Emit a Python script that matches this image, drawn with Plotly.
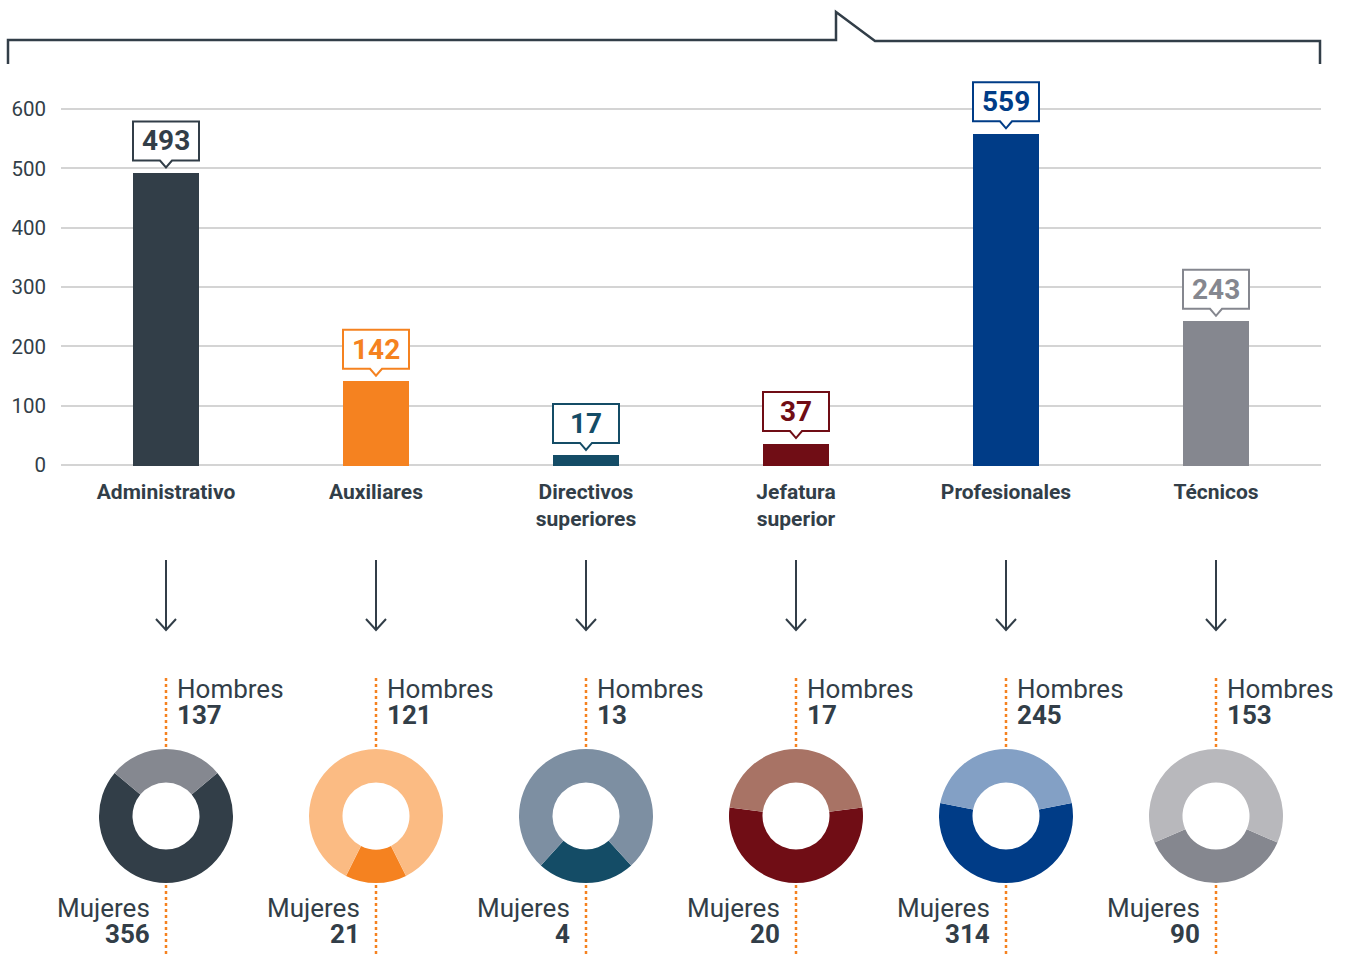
import plotly.graph_objects as go

W, H = 1356, 954

categories = ["Administrativo", "Auxiliares", "Directivos<br>superiores",
              "Jefatura<br>superior", "Profesionales", "Técnicos"]
totals = [493, 142, 17, 37, 559, 243]
hombres = [137, 121, 13, 17, 245, 153]
mujeres = [356, 21, 4, 20, 314, 90]
y_ticks = [0, 100, 200, 300, 400, 500, 600]

bar_colors = ["#323e48", "#f58220", "#144c66", "#700d15", "#003c87", "#85878f"]
mujeres_colors = ["#323e48", "#f58220", "#144c66", "#700d15", "#003c87", "#85878f"]
hombres_colors = ["#858890", "#fbbb83", "#7d8fa2", "#a87365", "#83a0c5", "#b8b8bc"]

TXT = "#323e48"
FONT = "Roboto"


def px(p):
    return p / W


def py(p):
    return 1 - p / H


X0, X1 = 61, 1321
SCALE = 356 / 600          # pixels per unit
ZERO_PX = 465
yr = [-5, 675]
Y_BOT = ZERO_PX - yr[0] * SCALE
Y_TOP = ZERO_PX - yr[1] * SCALE
n = len(categories)
step = (X1 - X0) / n

fig = go.Figure()

fig.add_trace(go.Bar(
    x=list(range(n)), y=totals, marker=dict(color=bar_colors, line=dict(width=0)),
    width=0.318, showlegend=False, hoverinfo="x+y",
))

shapes = []
annotations = []

# bracket on top
bracket = (f"M{px(8)},{py(64)} L{px(8)},{py(40)} L{px(836)},{py(40)} "
           f"L{px(836)},{py(12)} L{px(875)},{py(41)} L{px(1320)},{py(41)} L{px(1320)},{py(64)}")
shapes.append(dict(type="path", xref="paper", yref="paper", path=bracket,
                   line=dict(color=TXT, width=2.5)))

for i in range(n):
    # callout box
    shapes.append(dict(
        type="path", xref="x", yref="y", xsizemode="pixel", ysizemode="pixel",
        xanchor=i, yanchor=totals[i],
        path="M-33,12 L-6,12 L0,5 L6,12 L33,12 L33,51 L-33,51 Z",
        line=dict(color=bar_colors[i], width=2), fillcolor="white", layer="above",
    ))
    annotations.append(dict(
        x=i, y=totals[i], xref="x", yref="y", yshift=31.5, showarrow=False,
        text=f"<b>{totals[i]}</b>", yanchor="middle",
        font=dict(family=FONT, size=28, color=bar_colors[i]),
    ))
    # down arrow
    shapes.append(dict(
        type="path", xref="x", yref="paper", xsizemode="pixel", ysizemode="pixel",
        xanchor=i, yanchor=py(560),
        path="M0,0 L0,-70 M-10,-59 L0,-70 L10,-59",
        line=dict(color=TXT, width=2),
    ))

    cx = X0 + (i + 0.5) * step
    cy = 816
    r = 67
    t = hombres[i] + mujeres[i]
    rot = 180 - mujeres[i] / t * 180
    fig.add_trace(go.Pie(
        values=[mujeres[i], hombres[i]], labels=["Mujeres", "Hombres"],
        marker=dict(colors=[mujeres_colors[i], hombres_colors[i]], line=dict(width=0)),
        hole=0.5, sort=False, direction="clockwise", rotation=rot,
        textinfo="none", showlegend=False,
        domain=dict(x=[px(cx - r), px(cx + r)], y=[py(cy + r), py(cy - r)]),
    ))
    # dotted guides
    shapes.append(dict(type="line", xref="paper", yref="paper",
                       x0=px(cx), x1=px(cx), y0=py(678), y1=py(748),
                       line=dict(color="#f58220", width=2.5, dash="dot")))
    shapes.append(dict(type="line", xref="paper", yref="paper",
                       x0=px(cx), x1=px(cx), y0=py(885), y1=py(954),
                       line=dict(color="#f58220", width=2.5, dash="dot")))
    lab = dict(xref="paper", yref="paper", yanchor="middle", showarrow=False,
               font=dict(family=FONT, size=26, color=TXT))
    annotations.append(dict(lab, x=px(cx + 9), y=py(689), xanchor="left",
                            text="Hombres"))
    annotations.append(dict(lab, x=px(cx + 9), y=py(715), xanchor="left",
                            text=f"<b>{hombres[i]}</b>"))
    annotations.append(dict(lab, x=px(cx - 14), y=py(908), xanchor="right",
                            text="Mujeres"))
    annotations.append(dict(lab, x=px(cx - 14), y=py(934), xanchor="right",
                            text=f"<b>{mujeres[i]}</b>"))

fig.update_layout(
    width=W, height=H, margin=dict(l=0, r=0, t=0, b=0, autoexpand=False),
    paper_bgcolor="white", plot_bgcolor="white",
    font=dict(family=FONT, color=TXT),
    xaxis=dict(domain=[px(X0), px(X1)], range=[-0.5, n - 0.5],
               tickvals=list(range(n)), ticktext=categories,
               tickfont=dict(family=FONT, size=21, color=TXT, weight="bold"),
               showgrid=False, zeroline=False, showline=False, ticks="",
               ticklabelstandoff=9, automargin=False),
    yaxis=dict(domain=[py(Y_BOT), py(Y_TOP)], range=yr, tickvals=y_ticks,
               tickfont=dict(family=FONT, size=20.5, color=TXT),
               showgrid=True, gridcolor="#d4d4d4", gridwidth=2,
               zeroline=False, showline=False, ticks="", ticklabelstandoff=14,
               automargin=False),
    shapes=shapes, annotations=annotations, bargap=0,
)

fig.write_html("out.html", config={"displayModeBar": False},
               post_script="document.body.style.margin='0px';"
                           "document.body.style.overflow='hidden';")
